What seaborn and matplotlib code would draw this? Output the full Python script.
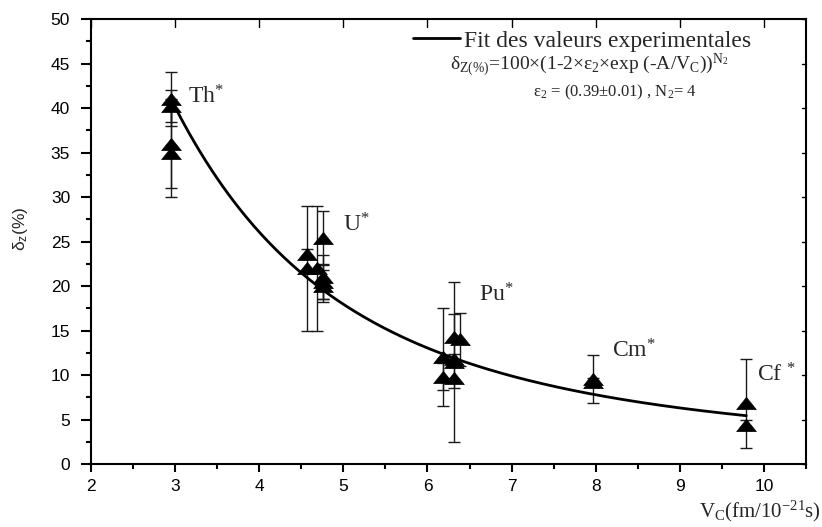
import numpy as np
import pandas as pd
import matplotlib
matplotlib.use("Agg")
import matplotlib.pyplot as plt
from matplotlib.path import Path
from matplotlib.ticker import MultipleLocator
import seaborn as sns

# ---------------- data ----------------
nucleus = ["Th", "Th", "Th", "Th",
           "U", "U", "U", "U", "U", "U", "U",
           "Pu", "Pu", "Pu", "Pu", "Pu", "Pu", "Pu",
           "Cm", "Cm",
           "Cf", "Cf"]
vc = [2.95, 2.95, 2.95, 2.95,
      4.565, 4.565, 4.69, 4.755, 4.755, 4.755, 4.755,
      6.19, 6.19, 6.32, 6.32, 6.32, 6.39, 6.32,
      7.97, 7.97,
      9.79, 9.79]
delta = [41.0, 40.2, 36.0, 35.0,
         23.6, 22.0, 22.0, 25.4, 21.0, 20.5, 20.0,
         12.0, 9.8, 11.5, 14.3, 9.7, 14.0, 11.8,
         9.6, 9.2,
         6.8, 4.4]
err = [3.0, 1.8, 5.0, 5.0,
       0.6, 7.0, 7.0, 3.0, 2.5, 2.0, 1.8,
       5.5, 1.5, 9.0, 2.5, 1.2, 3.0, 0.6,
       2.7, 0.5,
       5.0, 0.6]

label_text = ["Th$^{*}$", "U$^{*}$", "Pu$^{*}$", "Cm$^{*}$", "Cf $^{*}$"]
label_x = [3.15, 5.0, 6.61, 8.19, 9.92]
label_y = [41.2, 26.9, 19.0, 12.75, 10.0]

# fit parameters (as quoted on the chart)
eps2 = 0.39
N2 = 4
A = 4.02
fit_v_start, fit_v_end = 2.95, 9.79

x_ticks = [2, 3, 4, 5, 6, 7, 8, 9, 10]
y_ticks = [0, 5, 10, 15, 20, 25, 30, 35, 40, 45, 50]

# ---------------- style ----------------
sns.set_style("ticks")
plt.rcParams["font.family"] = ["Liberation Sans", "DejaVu Sans"]
plt.rcParams["mathtext.default"] = "regular"
SERIF = ["Liberation Serif", "DejaVu Serif"]

fig = plt.figure(figsize=(8.22, 5.27), dpi=100)
W, H = 822, 527
ax = fig.add_axes([91 / W, 1 - 464 / H, 715 / W, 445 / H])

df = pd.DataFrame({"nucleus": nucleus, "vc": vc, "delta": delta, "err": err})

# fit curve
vfit = np.linspace(fit_v_start, fit_v_end, 300)
dfit = 100 * (1 - 2 * eps2 * np.exp(-A / vfit)) ** N2
sns.lineplot(x=vfit, y=dfit, ax=ax, color="black", lw=2.0,
             label="Fit des valeurs experimentales", zorder=3)

# error bars
ax.errorbar(df["vc"], df["delta"], yerr=df["err"], fmt="none",
            ecolor="#1a1a1a", elinewidth=1.0, capsize=4, capthick=1.0, zorder=2)

# triangle markers (flattened)
tri = Path([(0, 0.62), (-1, -0.62), (1, -0.62), (0, 0.62)],
           [Path.MOVETO, Path.LINETO, Path.LINETO, Path.CLOSEPOLY])
sns.scatterplot(data=df, x="vc", y="delta", ax=ax, marker=tri, s=200,
                color="black", edgecolor="black", linewidth=0.5,
                zorder=4, legend=False)

# nucleus labels
for t, lx, ly in zip(label_text, label_x, label_y):
    ax.text(lx, ly, t, fontsize=17, family=SERIF, ha="left", va="center")

# axes setup
ax.set_xlim(2, 10.5)
ax.set_ylim(0, 50)
ax.set_xticks(x_ticks)
ax.set_yticks(y_ticks)
ax.xaxis.set_minor_locator(MultipleLocator(0.5))
ax.yaxis.set_minor_locator(MultipleLocator(2.5))
ax.tick_params(axis="both", which="major", direction="out", width=1.5,
               labelsize=12.5, color="black", labelcolor="black")
ax.tick_params(axis="y", which="major", length=7, pad=8)
ax.tick_params(axis="x", which="major", length=6, pad=5)
ax.tick_params(axis="both", which="minor", direction="out", length=3.5, width=1.5,
               color="black")
ax.tick_params(axis="both", which="both", top=False, right=False)
for s in ax.spines.values():
    s.set_visible(True)
    s.set_linewidth(1.5)
    s.set_color("black")

# inward ticks on top and right
for v in x_ticks:
    ax.plot([v, v], [50, 50 - 0.9], color="black", lw=1.0, clip_on=False)
for v in y_ticks:
    ax.plot([10.5, 10.5 - 0.05], [v, v], color="black", lw=1.0, clip_on=False)

ax.set_xlabel("")
ax.set_ylabel("$δ_z$(%)", fontsize=12.5)
ax.yaxis.set_label_coords(-0.085, 0.528)

fig.text(821 / W, 1 - 511 / H, "$V_C$(fm/10$^{-21}$s)", family=SERIF,
         fontsize=15, ha="right", va="center")

# legend + fit formula
leg = ax.legend(loc="upper left", bbox_to_anchor=((413 - 91) / 715, (464 - 30) / 445),
                frameon=False, borderpad=0, borderaxespad=0, handlelength=2.0,
                handletextpad=0.15, prop={"family": SERIF, "size": 17})
for line in leg.get_lines():
    line.set_linewidth(2.0)

ax.text((589 - 91) / 715, (464 - 65) / 445,
        "$δ_{Z(\\%)}$=100×(1-2×$ε_2$×exp (-A/$V_C$))$^{N_2}$",
        transform=ax.transAxes, family=SERIF, fontsize=14, ha="center", va="center")
ax.text((615 - 91) / 715, (464 - 92) / 445,
        "$ε_2$ = (0.39±0.01) , $N_2$= 4",
        transform=ax.transAxes, family=SERIF, fontsize=12, ha="center", va="center")

fig.savefig("out.png", dpi=100)
